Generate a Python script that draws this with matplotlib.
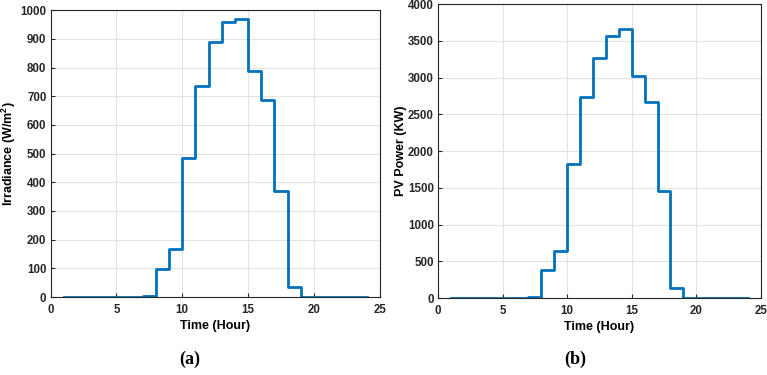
import matplotlib.pyplot as plt

# hourly data (step, value holds until next hour)
hours = list(range(1, 25))
irradiance = [0, 0, 0, 0, 0, 0, 4, 98, 168, 485, 735, 888, 958, 968,
              787, 685, 368, 35, 0, 0, 0, 0, 0, 0]
pv_power = [0, 0, 0, 0, 0, 0, 15, 385, 640, 1830, 2735, 3270, 3570, 3660,
            3025, 2670, 1455, 135, 0, 0, 0, 0, 0, 0]

plt.rcParams['font.family'] = ['Liberation Sans', 'DejaVu Sans']
plt.rcParams['mathtext.fontset'] = 'custom'
plt.rcParams['mathtext.rm'] = 'Liberation Sans:bold'
plt.rcParams['mathtext.bf'] = 'Liberation Sans:bold'

fig = plt.figure(figsize=(7.67, 3.75), dpi=100)
ax1 = fig.add_axes([0.066, 0.208, 0.429, 0.765])
ax2 = fig.add_axes([0.571, 0.205, 0.421, 0.784])


def style(ax, ymax, ystep, ylabel, label_x):
    ax.set_xlim(0, 25)
    ax.set_ylim(0, ymax)
    ax.set_xticks(range(0, 26, 5))
    ax.set_yticks(range(0, ymax + 1, ystep))
    ax.grid(True, color='#e3e3e3', linewidth=0.8)
    ax.set_axisbelow(True)
    ax.tick_params(direction='in', length=3, width=0.8, colors='#262626',
                   labelsize=8.3)
    ax.tick_params(axis='x', pad=5)
    ax.tick_params(axis='y', pad=3)
    for lab in ax.get_xticklabels() + ax.get_yticklabels():
        lab.set_fontweight('bold')
    for s in ax.spines.values():
        s.set_color('#262626')
        s.set_linewidth(0.8)
    ax.set_xlabel('Time (Hour)', fontsize=9, fontweight='bold', labelpad=3)
    ax.set_ylabel(ylabel, fontsize=9, fontweight='bold')
    ax.yaxis.set_label_coords(label_x, 0.5)


ax1.step(hours, irradiance, where='post', color='#0072BD', linewidth=2)
style(ax1, 1000, 100, r'Irradiance (W/m$^{2}$)', -0.10)

ax2.step(hours, pv_power, where='post', color='#0072BD', linewidth=2)
style(ax2, 4000, 500, 'PV Power (KW)', -0.096)

fig.text(0.248, 0.03, '(a)', fontsize=13, fontweight='bold',
         family='Liberation Serif', ha='center')
fig.text(0.750, 0.03, '(b)', fontsize=13, fontweight='bold',
         family='Liberation Serif', ha='center')

fig.savefig('out.png', dpi=100)
